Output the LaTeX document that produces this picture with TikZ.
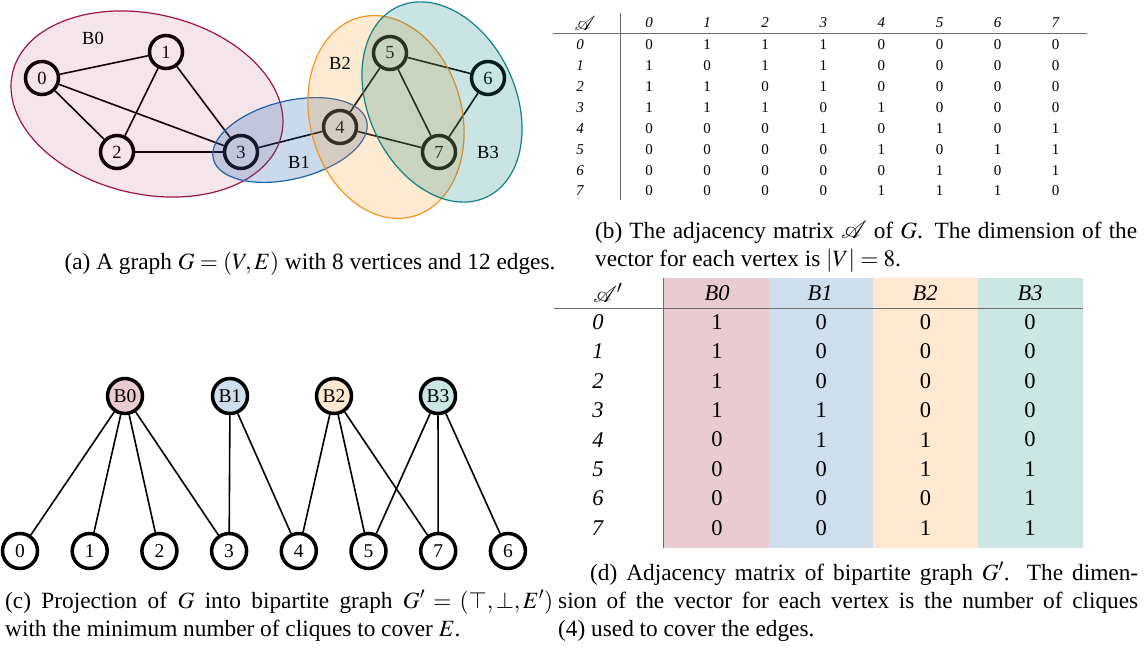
\documentclass[tikz,border=0pt]{standalone}
\usepackage{mathptmx}
\usepackage{mathrsfs}
\usepackage{fontspec}
\setmainfont{Liberation Serif}
\usetikzlibrary{backgrounds}
\definecolor{cB0}{RGB}{158,20,64}
\definecolor{cB1}{RGB}{31,97,168}
\definecolor{cB2}{RGB}{247,148,30}
\definecolor{cB3}{RGB}{15,130,130}
\definecolor{tB0}{RGB}{232,204,210}
\definecolor{tB1}{RGB}{206,222,236}
\definecolor{tB2}{RGB}{254,232,210}
\definecolor{tB3}{RGB}{204,230,228}
\definecolor{rulegray}{RGB}{110,110,110}
\begin{document}
\begin{tikzpicture}[x=1pt,y=-1pt,
  gnode/.style={circle,draw=black,fill=white,line width=3.5pt,minimum size=33pt,inner sep=0pt,font={\fontsize{18.5}{20}\selectfont}},
  bnode/.style={gnode,minimum size=35pt,font={\fontsize{19.5}{21}\selectfont}},
  gedge/.style={line width=1.6pt},
  cliq/.style={line width=1.2pt},
  lab/.style={inner sep=0pt,font={\fontsize{18.5}{20}\selectfont}},
  capt/.style={anchor=base west,inner sep=0pt,font={\fontsize{23.3}{28}\selectfont}},
  tbb/.style={inner sep=0pt,font={\fontsize{15}{18}\selectfont}},
  tbd/.style={inner sep=0pt,font={\fontsize{22.5}{27}\selectfont}},
  trule/.style={draw=rulegray,line width=1pt}]
\useasboundingbox (0,0) rectangle (1148,650);

% ---------- (a) graph ----------
\node[gnode] (n0) at (42,78) {0};
\node[gnode] (n1) at (166,52) {1};
\node[gnode] (n2) at (117,152) {2};
\node[gnode] (n3) at (241,152) {3};
\node[gnode] (n4) at (340,127) {4};
\node[gnode] (n5) at (390,53) {5};
\node[gnode] (n6) at (488,78) {6};
\node[gnode] (n7) at (439,152) {7};
\begin{scope}[on background layer]
\foreach \a/\b in {n0/n1,n0/n2,n0/n3,n1/n2,n1/n3,n2/n3,n3/n4,n4/n5,n4/n7,n5/n6,n5/n7,n6/n7}
  \draw[gedge] (\a) -- (\b);
\end{scope}
% clique ellipses (semi-transparent, over the graph)
\draw[cliq,draw=cB0,fill=cB0,fill opacity=0.11,rotate around={-13:(147,104)}] (147,104) ellipse [x radius=138,y radius=90];
\draw[cliq,draw=cB1,fill=cB1,fill opacity=0.23,rotate around={14:(290,140)}] (290,140) ellipse [x radius=79,y radius=39];
\draw[cliq,draw=cB2,fill=cB2,fill opacity=0.2,rotate around={15:(386,117)}] (386,117) ellipse [x radius=76,y radius=103];
\draw[cliq,draw=cB3,fill=cB3,fill opacity=0.22,rotate around={25:(442,102)}] (442,102) ellipse [x radius=73.5,y radius=105];
\node[lab] (lB0) at (93,38) {B0};
\node[lab] (lB1) at (299,162) {B1};
\node[lab] (lB2) at (340,63) {B2};
\node[lab] (lB3) at (488,152) {B3};

% ---------- (b) adjacency matrix ----------
\draw[trule] (553,34) -- (1087,34);
\draw[trule] (620,13) -- (620,200);
\node[tbb,scale=1.4] (hA) at (585,23) {$\mathscr{A}$};
\foreach \j in {0,...,7}
  \node[tbb] (hb\j) at ({649+58.1*\j},23) {\textit{\j}};
\foreach \row [count=\i from 0] in {{0,1,1,1,0,0,0,0},{1,0,1,1,0,0,0,0},{1,1,0,1,0,0,0,0},{1,1,1,0,1,0,0,0},{0,0,0,1,0,1,0,1},{0,0,0,0,1,0,1,1},{0,0,0,0,0,1,0,1},{0,0,0,0,1,1,1,0}}{
  \node[tbb] (rb\i) at (580,{45+20.86*\i}) {\textit{\i}};
  \foreach \v [count=\j from 0] in \row
    \node[tbb] (b-\i-\j) at ({649+58.1*\j},{45+20.86*\i}) {\v};
}

% ---------- (d) bipartite adjacency matrix ----------
\fill[tB0] (663,278) rectangle (769,548);
\fill[tB1] (769,278) rectangle (873,548);
\fill[tB2] (873,278) rectangle (978,548);
\fill[tB3] (978,278) rectangle (1083,548);
\draw[draw=rulegray,line width=0.8pt] (663,278) -- (663,548);
\draw[trule] (554,308) -- (1083,308);
\node[tbd,scale=1.1] (hAp) at (608,293) {$\mathscr{A}'$};
\foreach \j/\x in {0/717,1/820,2/925,3/1030}
  \node[tbd] (hd\j) at (\x,293) {\textit{B\j}};
\foreach \row [count=\i from 0] in {{1,0,0,0},{1,0,0,0},{1,0,0,0},{1,1,0,0},{0,1,1,0},{0,0,1,1},{0,0,0,1},{0,0,1,1}}{
  \node[tbd] (rd\i) at (598,{322+29.4*\i}) {\textit{\i}};
  \foreach \v [count=\j from 0] in \row
    \node[tbd] (d-\i-\j) at ({717+104.3*\j},{322+29.4*\i}) {\v};
}

% ---------- (c) bipartite graph ----------
\node[bnode,fill=tB0] (P0) at (125,396) {B0};
\node[bnode,fill=tB1] (P1) at (230,396) {B1};
\node[bnode,fill=tB2] (P2) at (334,396) {B2};
\node[bnode,fill=tB3] (P3) at (438,396) {B3};
\foreach \lbl [count=\k from 0] in {0,1,2,3,4,5,7,6}
  \node[bnode] (q\lbl) at ({20+69.7*\k},551) {\lbl};
\foreach \a/\b in {P0/q0,P0/q1,P0/q2,P0/q3,P1/q3,P1/q4,P2/q4,P2/q5,P2/q7,P3/q5,P3/q7,P3/q6}
  \draw[gedge] (\a) -- (\b);

% ---------- captions ----------
\node[capt,anchor=base] (capA) at (310,269) {(a) A graph $G=(V,E)$ with 8 vertices and 12 edges.};
\node[capt] (capB1) at (595,238) {\makebox[542pt][s]{(b) The adjacency matrix $\mathscr{A}$ of $G$. The dimension of the}};
\node[capt] (capB2) at (595,266) {vector for each vertex is $|V|=8$.};
\node[capt] (capC1) at (5,608) {\makebox[548pt][s]{(c) Projection of $G$ into bipartite graph $G'=(\top,\bot,E')$}};
\node[capt] (capC2) at (5,636) {with the minimum number of cliques to cover $E$.};
\node[capt] (capD1) at (590,580) {\makebox[548pt][s]{(d) Adjacency matrix of bipartite graph $G'$. The dimen-}};
\node[capt] (capD2) at (558,608) {\makebox[580pt][s]{sion of the vector for each vertex is the number of cliques}};
\node[capt] (capD3) at (558,636) {(4) used to cover the edges.};
\end{tikzpicture}
\end{document}
